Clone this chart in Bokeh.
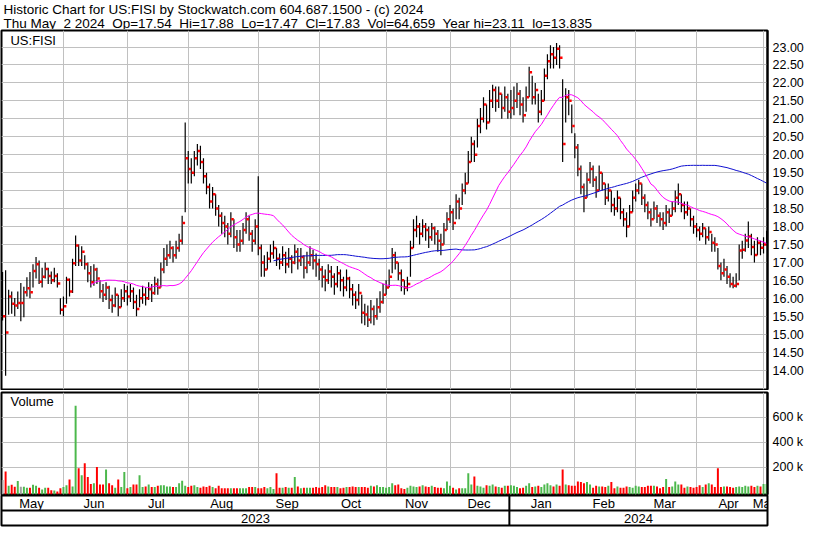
import numpy as np
import pandas as pd
from bokeh.plotting import figure
from bokeh.layouts import column
from bokeh.models import (Range1d, FixedTicker, Grid, ColumnDataSource, PrintfTickFormatter)
from bokeh.core.properties import value
from bokeh.embed import file_html
from bokeh.resources import INLINE

# ---------------- data ----------------
holidays = ["2023-05-29", "2023-06-19", "2023-07-04", "2023-09-04", "2023-11-23",
            "2023-12-25", "2024-01-01", "2024-01-15", "2024-02-19", "2024-03-29"]

close = [
    # May 2023
    15.50, 15.05, 16.05, 15.85, 15.80, 15.87, 15.87, 16.17, 16.28, 16.17, 16.76, 16.95, 16.46, 16.60, 16.82, 16.62, 16.50, 16.62, 16.41, 15.68,
    # Jun
    15.78, 16.52, 16.19, 16.98, 17.47, 17.05, 17.30, 16.95, 16.70, 16.45, 16.80, 16.55, 16.20, 16.10, 16.30, 15.95, 15.80, 16.10, 15.75, 16.00, 16.20,
    # Jul
    16.05, 16.20, 15.90, 15.70, 16.00, 16.10, 16.00, 16.25, 16.15, 16.40, 16.30, 16.80, 17.10, 17.20, 17.40, 17.20, 17.40, 17.60, 18.10, 19.90,
    # Aug
    19.60, 19.50, 19.90, 20.10, 19.80, 19.40, 19.10, 18.70, 18.90, 18.50, 18.30, 18.10, 18.00, 17.80, 18.20, 17.70, 17.50, 17.60, 17.90, 18.20, 17.80, 17.60, 18.00,
    # Sep
    17.40, 17.00, 16.80, 17.10, 17.25, 17.40, 17.10, 17.00, 17.20, 16.95, 17.10, 17.00, 17.30, 17.05, 17.15, 16.85, 17.00, 17.20, 17.05, 16.95,
    # Oct
    16.80, 16.60, 16.50, 16.75, 16.60, 16.40, 16.70, 16.50, 16.30, 16.55, 16.25, 16.10, 15.95, 16.15, 15.60, 15.55, 15.40, 15.70, 15.50, 15.75, 15.90, 16.10,
    # Nov
    16.30, 16.60, 17.20, 17.00, 16.70, 16.50, 16.30, 16.40, 17.40, 17.90, 18.00, 17.80, 18.00, 17.90, 17.70, 17.95, 17.80, 17.60, 17.50, 17.90, 18.20,
    # Dec
    18.40, 18.10, 18.70, 18.50, 19.00, 19.20, 19.80, 20.30, 20.00, 20.80, 21.00, 21.40, 20.90, 21.50, 21.80, 21.50, 21.70, 21.30, 21.60, 21.20,
    # Jan 2024
    21.30, 21.50, 21.70, 21.40, 21.10, 21.60, 22.30, 21.60, 21.80, 21.20, 21.50, 22.20, 22.60, 22.80, 22.70, 22.95, 22.70, 20.30, 21.60, 21.50, 20.80,
    # Feb
    20.20, 19.60, 19.10, 18.80, 19.30, 19.60, 19.30, 19.00, 19.50, 19.20, 18.80, 19.00, 18.60, 18.50, 18.80, 18.40, 18.20, 18.00, 18.40, 18.80,
    # Mar
    19.00, 19.20, 18.80, 18.60, 18.40, 18.20, 18.50, 18.30, 18.20, 18.10, 18.40, 18.30, 18.50, 18.80, 18.90, 18.60, 18.40, 18.50, 18.20, 18.00,
    # Apr
    17.90, 17.80, 17.95, 17.70, 17.85, 17.55, 17.50, 16.90, 16.70, 16.80, 16.60, 16.40, 16.35, 16.40, 17.33, 17.35, 17.61, 17.72, 17.43, 17.21, 17.55, 17.41,
    # May 2024
    17.50, 17.83,
]

high = [
    16.73, 16.78, 16.24, 16.19, 16.01, 16.19, 16.43, 16.32, 16.59, 16.73, 16.95, 17.15, 17.05, 16.85, 17.00, 16.85, 16.75, 16.85, 16.70, 16.00,
    16.05, 16.60, 16.55, 17.10, 17.75, 17.50, 17.45, 17.20, 17.00, 16.90, 16.95, 16.85, 16.50, 16.40, 16.45, 16.35, 16.10, 16.30, 16.10, 16.25, 16.40,
    16.35, 16.40, 16.30, 16.10, 16.25, 16.35, 16.30, 16.45, 16.40, 16.60, 16.55, 17.00, 17.40, 17.50, 17.60, 17.45, 17.60, 17.80, 18.30, 20.90,
    20.10, 19.90, 20.10, 20.30, 20.25, 19.90, 19.50, 19.20, 19.10, 18.90, 18.60, 18.40, 18.30, 18.10, 18.40, 18.20, 17.90, 17.90, 18.10, 18.40, 18.30, 17.90, 18.20,
    19.40, 17.50, 17.20, 17.30, 17.50, 17.60, 17.40, 17.25, 17.45, 17.30, 17.40, 17.20, 17.50, 17.40, 17.40, 17.20, 17.30, 17.45, 17.35, 17.25,
    17.10, 16.90, 16.80, 16.95, 16.90, 16.70, 16.90, 16.80, 16.60, 16.80, 16.60, 16.40, 16.20, 16.40, 16.10, 15.85, 15.80, 15.95, 15.80, 16.00, 16.20, 16.40,
    16.50, 16.80, 17.40, 17.30, 17.00, 16.80, 16.50, 16.60, 17.60, 18.20, 18.30, 18.10, 18.20, 18.10, 18.00, 18.10, 18.00, 17.90, 17.80, 18.10, 18.40,
    18.60, 18.50, 18.90, 18.80, 19.20, 19.50, 20.10, 20.50, 20.40, 21.00, 21.30, 21.60, 21.40, 21.80, 21.95, 21.90, 21.90, 21.70, 21.90, 21.70,
    21.80, 21.90, 22.00, 21.80, 21.60, 21.90, 22.45, 22.20, 22.00, 21.70, 21.80, 22.40, 22.80, 23.05, 23.00, 23.11, 23.05, 22.10, 21.85, 21.80, 21.40,
    20.60, 20.30, 19.70, 19.20, 19.50, 19.80, 19.70, 19.40, 19.70, 19.50, 19.20, 19.20, 19.00, 18.80, 19.00, 18.80, 18.50, 18.40, 18.60, 19.00,
    19.20, 19.30, 19.20, 18.90, 18.70, 18.50, 18.70, 18.60, 18.40, 18.40, 18.60, 18.50, 18.70, 19.00, 19.20, 18.90, 18.70, 18.70, 18.50, 18.30,
    18.10, 18.00, 18.10, 17.95, 18.00, 17.80, 17.70, 17.40, 17.00, 17.10, 16.90, 16.70, 16.60, 16.70, 17.50, 17.60, 17.80, 18.14, 17.80, 17.60, 17.70, 17.60,
    17.70, 17.88,
]

low = [
    15.38, 13.84, 15.54, 15.57, 15.50, 15.70, 15.36, 15.47, 16.05, 16.00, 16.30, 16.55, 16.40, 16.30, 16.55, 16.40, 16.40, 16.45, 16.30, 15.55,
    15.50, 15.85, 16.05, 16.15, 16.90, 16.90, 16.90, 16.80, 16.45, 16.30, 16.35, 16.40, 16.00, 15.90, 15.95, 15.70, 15.60, 15.75, 15.50, 15.75, 15.90,
    15.80, 15.90, 15.70, 15.50, 15.75, 15.85, 15.80, 15.95, 15.90, 16.10, 16.10, 16.30, 16.70, 16.90, 17.10, 17.00, 17.10, 17.30, 17.50, 18.40,
    19.20, 19.20, 19.40, 19.70, 19.60, 19.20, 18.90, 18.50, 18.50, 18.30, 18.00, 17.80, 17.70, 17.50, 17.70, 17.40, 17.30, 17.30, 17.50, 17.80, 17.60, 17.30, 17.50,
    17.20, 16.60, 16.60, 16.80, 17.00, 17.10, 16.90, 16.80, 16.90, 16.70, 16.85, 16.70, 16.95, 16.80, 16.90, 16.55, 16.70, 16.90, 16.80, 16.60,
    16.50, 16.30, 16.20, 16.40, 16.30, 16.10, 16.30, 16.20, 16.05, 16.20, 16.00, 15.80, 15.70, 15.80, 15.30, 15.25, 15.20, 15.30, 15.25, 15.40, 15.60, 15.85,
    16.10, 16.30, 16.70, 16.80, 16.50, 16.20, 16.10, 16.20, 16.60, 17.40, 17.70, 17.50, 17.70, 17.60, 17.40, 17.60, 17.50, 17.30, 17.20, 17.50, 17.90,
    18.10, 17.90, 18.20, 18.20, 18.60, 18.90, 19.20, 19.80, 19.80, 20.20, 20.60, 20.90, 20.70, 20.90, 21.30, 21.20, 21.30, 21.00, 21.20, 21.00,
    21.00, 21.10, 21.30, 21.10, 20.90, 21.20, 21.60, 21.40, 21.40, 20.90, 21.10, 21.50, 22.10, 22.40, 22.40, 22.50, 22.40, 19.80, 20.90, 21.10, 20.60,
    19.90, 19.40, 18.90, 18.40, 18.80, 19.20, 19.10, 18.80, 19.00, 19.00, 18.60, 18.70, 18.40, 18.30, 18.40, 18.20, 18.00, 17.70, 18.00, 18.40,
    18.70, 18.90, 18.60, 18.40, 18.20, 18.00, 18.20, 18.10, 18.00, 17.90, 18.00, 18.10, 18.30, 18.40, 18.60, 18.40, 18.20, 18.30, 18.00, 17.80,
    17.70, 17.60, 17.70, 17.50, 17.60, 17.30, 17.30, 16.80, 16.50, 16.60, 16.40, 16.30, 16.28, 16.30, 16.50, 17.10, 17.30, 17.40, 17.20, 17.00, 17.20, 17.20,
    17.25, 17.47,
]

volume_k = [
    96, 165, 50, 58, 42, 88, 42, 42, 35, 35, 58, 50, 35, 20, 35, 35, 15, 12, 5, 30,
    40, 55, 100, 45, 690, 190, 135, 230, 120, 65, 70, 200, 60, 60, 180, 70, 55, 35, 100, 40, 160,
    30, 40, 60, 60, 135, 40, 45, 60, 40, 40, 50, 55, 55, 45, 45, 40, 40, 70, 90, 50,
    40, 50, 55, 40, 35, 45, 40, 50, 40, 30, 50, 30, 30, 30, 30, 30, 30, 30, 30, 30, 40, 40, 40,
    30, 30, 40, 30, 40, 25, 150, 35, 35, 40, 35, 35, 120, 45, 30, 35, 35, 35, 35, 40,
    35, 40, 55, 45, 40, 40, 40, 30, 35, 40, 40, 45, 40, 40, 40, 40, 35, 50, 45, 55, 40, 40,
    35, 40, 70, 55, 60, 30, 25, 35, 50, 45, 40, 45, 55, 45, 40, 50, 40, 35, 35, 30, 85,
    50, 35, 20, 30, 30, 30, 150, 60, 125, 50, 45, 35, 55, 50, 60, 45, 40, 35, 50, 50,
    55, 50, 40, 30, 35, 50, 70, 40, 45, 50, 40, 60, 70, 55, 45, 60, 50, 180, 60, 55, 50,
    50, 85, 80, 70, 80, 60, 35, 50, 45, 45, 40, 50, 80, 30, 45, 35, 35, 45, 40, 35,
    50, 45, 40, 40, 50, 50, 50, 45, 30, 40, 105, 40, 45, 85, 60, 60, 35, 45, 40, 35,
    40, 55, 40, 60, 70, 60, 40, 190, 40, 45, 45, 40, 35, 40, 45, 40, 50, 45, 50, 40, 50, 45,
    65, 65,
]

price_ticks = [14.0, 14.5, 15.0, 15.5, 16.0, 16.5, 17.0, 17.5, 18.0, 18.5, 19.0, 19.5,
               20.0, 20.5, 21.0, 21.5, 22.0, 22.5, 23.0]
volume_ticks_k = [200, 400, 600]
fast_ma, slow_ma = 30, 90

header1 = "Historic Chart for US:FISI by Stockwatch.com 604.687.1500 - (c) 2024"
header2 = ("Thu May\u00a0 2 2024\u00a0 Op=17.54\u00a0 Hi=17.88\u00a0 Lo=17.47\u00a0 Cl=17.83"
           "\u00a0 Vol=64,659\u00a0 Year hi=23.11\u00a0 lo=13.835")

# ---------------- derived ----------------
dates = pd.bdate_range("2023-05-03", "2024-05-02", freq="C", holidays=holidays)
n = len(dates)
assert n == len(close) == len(high) == len(low) == len(volume_k), (n, len(close), len(high), len(low), len(volume_k))
idx = np.arange(n)
cl = pd.Series(close)
chg = cl.diff()
vcol = ["#A0A0A0" if (np.isnan(c) or c == 0) else ("#4CB84C" if c > 0 else "#FF0000") for c in chg]
ma_fast = cl.rolling(fast_ma).mean()
ma_slow = cl.rolling(slow_ma).mean()

month_key = dates.to_period("M")
month_starts = [i for i in range(n) if i == 0 or month_key[i] != month_key[i - 1]]
bounds = month_starts + [n]
month_centers = [(bounds[k] + bounds[k + 1] - 1) / 2 for k in range(len(month_starts))]
month_names = [dates[i].strftime("%b") for i in month_starts]
grid_months = month_starts[1:]
year_start = [i for i in range(1, n) if dates[i].year != dates[i - 1].year][0]

FONT = "Liberation Sans"
W = 814
RB = 47                       # right border width (axis area)
XL, XR_ = -0.35, 251.3
xr = Range1d(XL, XR_)
GRID = "#C0C0C0"

src = ColumnDataSource(dict(x=idx, xc=idx + 0.55, high=high, low=low, close=close,
                            vol=volume_k, vcol=vcol, maf=ma_fast, mas=ma_slow))

common = dict(output_backend="svg", toolbar_location=None)


def set_grids(f, xticks, yticks):
    f.center = [r for r in f.center if not isinstance(r, Grid)]
    if xticks:
        f.add_layout(Grid(dimension=0, ticker=FixedTicker(ticks=xticks), grid_line_color=GRID,
                          grid_line_width=1), "center")
    if yticks:
        f.add_layout(Grid(dimension=1, ticker=FixedTicker(ticks=yticks), grid_line_color=GRID,
                          grid_line_width=1), "center")


# ---------------- header ----------------
fh = figure(width=W, height=29, x_range=Range1d(0, W), y_range=Range1d(29, 0),
            x_axis_location=None, y_axis_location=None, min_border=0,
            outline_line_color=None, **common)
set_grids(fh, None, None)
fh.text(x=[2, 2], y=[1, 15], text=[header1, header2], text_font=value(FONT),
        text_font_size="13.5px", text_baseline="top", text_color="black")

# ---------------- price panel ----------------
fa = figure(width=W, height=361, x_range=xr, y_range=Range1d(13.46, 23.46),
            x_axis_location=None, y_axis_location="right",
            min_border_left=1, min_border_right=RB, min_border_top=1, min_border_bottom=1,
            **common)
fa.outline_line_color = "black"
fa.outline_line_width = 2
ya = fa.yaxis[0]
ya.ticker = FixedTicker(ticks=price_ticks)
ya.formatter = PrintfTickFormatter(format="%.2f")
set_grids(fa, grid_months, price_ticks)

fa.segment(x0="x", y0="low", x1="x", y1="high", line_color="black", line_width=1.2, source=src)
fa.scatter(x="xc", y="close", marker="square", size=2.5, fill_color="#FF0000",
           line_color=None, source=src)
fa.line(x="x", y="mas", line_color="#1010D0", line_width=1, source=src)
fa.line(x="x", y="maf", line_color="#FF00FF", line_width=1, source=src)
fa.text(x=[2.6], y=[23.18], text=["US:FISI"], text_font=value(FONT), text_font_size="13px",
        text_baseline="middle", text_color="black")

# ---------------- volume panel ----------------
VB = -19
fb = figure(width=W, height=105, x_range=xr, y_range=Range1d(VB, 796),
            x_axis_location=None, y_axis_location="right",
            min_border_left=1, min_border_right=RB, min_border_top=2, min_border_bottom=1,
            **common)
fb.outline_line_color = "black"
fb.outline_line_width = 2
yb = fb.yaxis[0]
yb.ticker = FixedTicker(ticks=volume_ticks_k)
yb.major_label_overrides = {t: f"{t} k" for t in volume_ticks_k}
set_grids(fb, grid_months, volume_ticks_k)
fb.vbar(x="x", top="vol", bottom=VB, width=0.65, fill_color="vcol", line_color=None, source=src)
fb.text(x=[2.6], y=[727], text=["Volume"], text_font=value(FONT), text_font_size="13px",
        text_baseline="middle", text_color="black")

for f in (fa, fb):
    ax = f.yaxis[0]
    ax.major_tick_in = 0
    ax.major_tick_out = 0
    ax.minor_tick_in = 0
    ax.minor_tick_out = 0
    ax.axis_line_color = "black"
    ax.axis_line_width = 2
    ax.major_label_text_font = FONT
    ax.major_label_text_font_size = "12.5px"
    ax.major_label_text_color = "black"
    ax.major_label_standoff = 5

# ---------------- month / year rows ----------------
fc = figure(width=W, height=32, x_range=xr, y_range=Range1d(0, 2),
            x_axis_location=None, y_axis_location=None,
            min_border_left=1, min_border_right=RB, min_border_top=0, min_border_bottom=2,
            **common)
set_grids(fc, None, None)
fc.outline_line_color = "black"
fc.outline_line_width = 2
ys = year_start - 0.5
fc.segment(x0=[XL, ys], y0=[1, 0], x1=[XR_, ys], y1=[1, 2], line_color="black", line_width=2)
fc.text(x=month_centers, y=[1.5] * len(month_centers), text=month_names, text_font=value(FONT),
        text_font_size="13px", text_align="center", text_baseline="middle", text_color="black")
year_centers = [(XL + ys) / 2, (ys + XR_) / 2]
year_labels = [str(dates[0].year), str(dates[-1].year)]
fc.text(x=year_centers, y=[0.5, 0.5], text=year_labels, text_font=value(FONT),
        text_font_size="13px", text_align="center", text_baseline="middle", text_color="black")

layout = column(fh, fa, fb, fc, spacing=0)
open("out.html", "w").write(file_html(layout, INLINE))
